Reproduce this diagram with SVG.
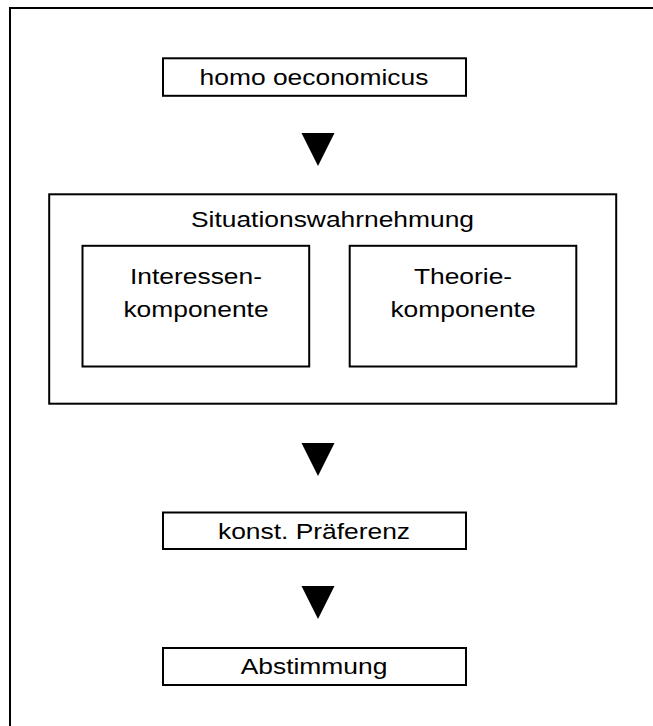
<svg xmlns="http://www.w3.org/2000/svg" width="653" height="726" viewBox="0 0 653 726">
<style>
.box{fill:#fff;stroke:#000;stroke-width:2}
.frame{fill:none;stroke:#000;stroke-width:2}
.lbl{font-family:"Liberation Sans",Arial,sans-serif;font-size:22px;fill:#000;text-anchor:middle}
.arrow{fill:#000;stroke:none}
</style>
<rect width="653" height="726" fill="#fff"/>
<rect class="frame" x="10" y="8" width="800" height="900"/>
<g id="homo">
<rect class="box" x="163" y="58.3" width="303" height="37.5"/>
<text class="lbl" transform="translate(314,85) scale(1.2,1)">homo oeconomicus</text>
</g>
<g id="situation">
<rect class="box" x="49.2" y="194.3" width="567" height="209.4"/>
<text class="lbl" transform="translate(332.5,227) scale(1.2,1)">Situationswahrnehmung</text>
</g>
<g id="interessen">
<rect class="box" x="82.5" y="245.8" width="226.7" height="120.7"/>
<text class="lbl" transform="translate(196,284) scale(1.2,1)">Interessen-</text>
<text class="lbl" transform="translate(196,317) scale(1.2,1)">komponente</text>
</g>
<g id="theorie">
<rect class="box" x="349.7" y="245.8" width="226.6" height="120.7"/>
<text class="lbl" transform="translate(463,284) scale(1.2,1)">Theorie-</text>
<text class="lbl" transform="translate(463,317) scale(1.2,1)">komponente</text>
</g>
<g id="praeferenz">
<rect class="box" x="163" y="512.5" width="303" height="36.5"/>
<text class="lbl" transform="translate(314,539.3) scale(1.2,1)">konst. Präferenz</text>
</g>
<g id="abstimmung">
<rect class="box" x="163" y="648" width="303" height="37"/>
<text class="lbl" transform="translate(314,674) scale(1.2,1)">Abstimmung</text>
</g>
<g id="connectors">
<polygon class="arrow" points="301.5,133 334.5,133 318,166"/>
<polygon class="arrow" points="301.5,443 334.5,443 318,476"/>
<polygon class="arrow" points="301.5,586 334.5,586 318,619"/>
</g>
</svg>
